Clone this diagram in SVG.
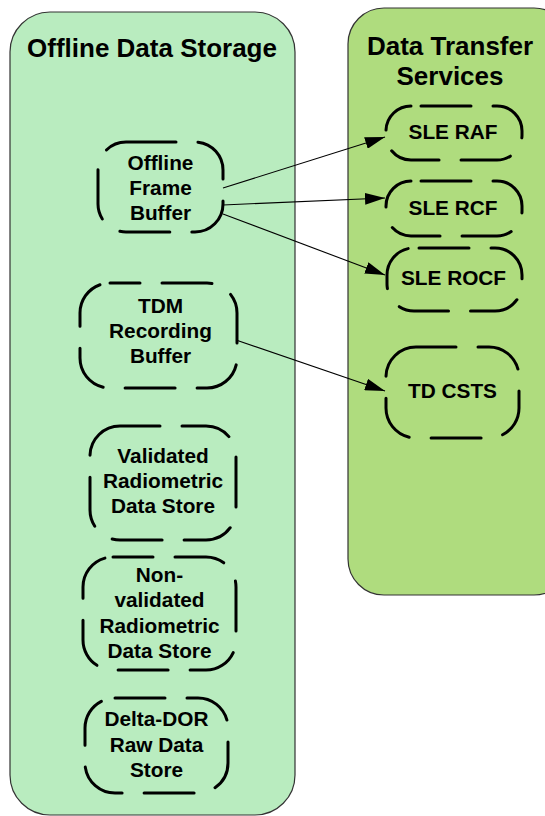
<svg xmlns="http://www.w3.org/2000/svg" width="545" height="816" viewBox="0 0 545 816">
<style>
.panel{stroke:#333;stroke-width:1.2}
.node{fill:none;stroke:#000;stroke-width:3;stroke-dasharray:50 22;stroke-linecap:round}
.t{font-family:"Liberation Sans",Arial,sans-serif;font-weight:bold;fill:#000;text-anchor:middle}
.title{font-size:26px}
.lbl{font-size:20.8px}
.conn{stroke:#000;stroke-width:1.1;fill:none;marker-end:url(#ah)}
</style>
<defs>
<marker id="ah" markerUnits="userSpaceOnUse" markerWidth="20" markerHeight="12" refX="20" refY="6" orient="auto">
<path d="M0,0 L20,6 L0,12 z" fill="#000"/>
</marker>
</defs>
<rect width="545" height="816" fill="#fff"/>
<g id="offline-data-storage">
<rect class="panel" x="10" y="12" width="285" height="803" rx="40" fill="#b9ecbf"/>
<text class="t title" x="152" y="57">Offline Data Storage</text>
</g>
<g id="data-transfer-services">
<rect class="panel" x="348" y="8" width="222" height="587" rx="36" fill="#afdc7e"/>
<text class="t title" x="450" y="55">Data Transfer</text>
<text class="t title" x="450" y="85">Services</text>
</g>
<g id="offline-frame-buffer">
<rect class="node" x="98" y="142" width="125" height="90" rx="28"/>
<text class="t lbl" x="160.5" y="170">Offline</text>
<text class="t lbl" x="160.5" y="195">Frame</text>
<text class="t lbl" x="160.5" y="220">Buffer</text>
</g>
<g id="tdm-recording-buffer">
<rect class="node" x="80" y="283" width="157" height="105" rx="30" stroke-dashoffset="20"/>
<text class="t lbl" x="160.5" y="313">TDM</text>
<text class="t lbl" x="160.5" y="338">Recording</text>
<text class="t lbl" x="160.5" y="363">Buffer</text>
</g>
<g id="validated-radiometric">
<rect class="node" x="90" y="426" width="146" height="114" rx="30" stroke-dashoffset="10"/>
<text class="t lbl" x="163" y="463">Validated</text>
<text class="t lbl" x="163" y="488">Radiometric</text>
<text class="t lbl" x="163" y="513">Data Store</text>
</g>
<g id="non-validated-radiometric">
<rect class="node" x="83" y="557" width="153" height="113" rx="30" stroke-dashoffset="10"/>
<text class="t lbl" x="159.5" y="582">Non-</text>
<text class="t lbl" x="159.5" y="607">validated</text>
<text class="t lbl" x="159.5" y="633">Radiometric</text>
<text class="t lbl" x="159.5" y="658">Data Store</text>
</g>
<g id="delta-dor">
<rect class="node" x="85" y="698" width="143" height="95" rx="30" stroke-dashoffset="0"/>
<text class="t lbl" x="156.5" y="726">Delta-DOR</text>
<text class="t lbl" x="156.5" y="752">Raw Data</text>
<text class="t lbl" x="156.5" y="777">Store</text>
</g>
<g id="sle-raf">
<rect class="node" x="386" y="106" width="136" height="54" rx="25" stroke-dashoffset="-10"/>
<text class="t lbl" x="453" y="139">SLE RAF</text>
</g>
<g id="sle-rcf">
<rect class="node" x="386" y="181" width="136" height="55" rx="25" stroke-dashoffset="-10"/>
<text class="t lbl" x="453" y="215">SLE RCF</text>
</g>
<g id="sle-rocf">
<rect class="node" x="387" y="248" width="135" height="63" rx="27" stroke-dashoffset="-5"/>
<text class="t lbl" x="453.5" y="285">SLE ROCF</text>
</g>
<g id="td-csts">
<rect class="node" x="386" y="347" width="133" height="91" rx="30" stroke-dashoffset="10"/>
<text class="t lbl" x="452.5" y="398">TD CSTS</text>
</g>
<g id="connectors">
<line class="conn" x1="223" y1="188" x2="385" y2="137"/>
<line class="conn" x1="223" y1="205" x2="385" y2="198"/>
<line class="conn" x1="223" y1="214" x2="385" y2="275"/>
<line class="conn" x1="236" y1="340" x2="385" y2="391"/>
</g>
</svg>
